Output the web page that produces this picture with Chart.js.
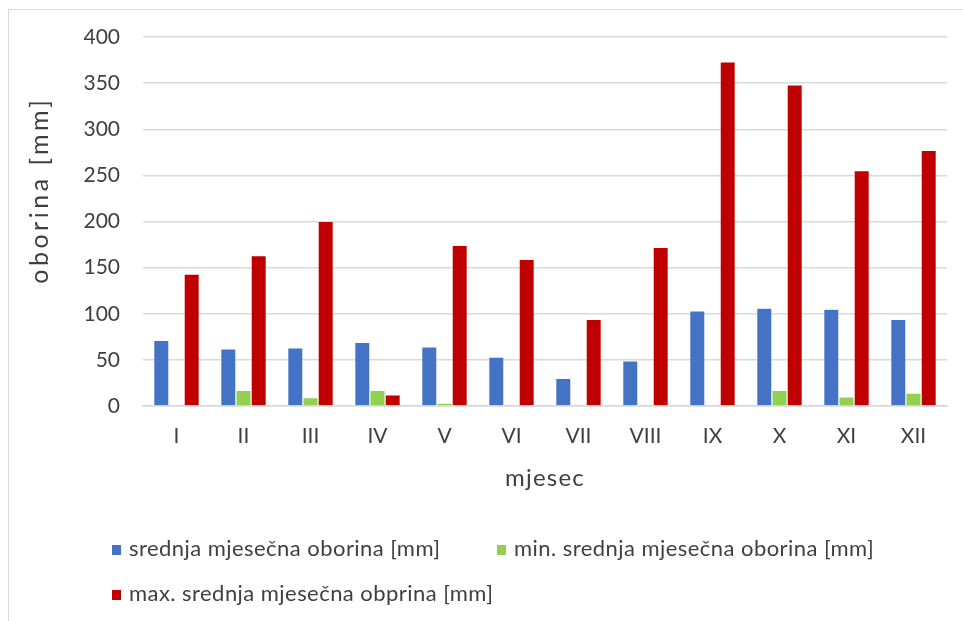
<!DOCTYPE html>
<html>
<head>
<meta charset="utf-8">
<script src="https://cdn.jsdelivr.net/npm/chart.js@4.4.1/dist/chart.umd.min.js"></script>
<style>
  html, body { margin: 0; padding: 0; background: #ffffff; }
  #wrap { position: relative; width: 963px; height: 621px; overflow: hidden; }
  #frame { position: absolute; left: 8px; top: 9px; width: 1000px; height: 700px;
           border-top: 1.5px solid #d9d9d9; border-left: 1.5px solid #d9d9d9; box-sizing: border-box; }
  canvas { position: absolute; left: 0; top: 0; }
  .leg { position: absolute; font-family: Lato, sans-serif; font-size: 22px; letter-spacing: 0.45px; color: #404040;
         white-space: nowrap; line-height: 24px; }
  .leg i { display: inline-block; width: 9px; height: 10px; margin-right: 8px; vertical-align: 1px; }
</style>
</head>
<body>
<div id="wrap">
  <div id="frame"></div>
  <canvas id="c" width="963" height="621"></canvas>
  <div class="leg" id="leg0" style="left:112px; top:536px;"></div>
  <div class="leg" id="leg1" style="left:497px; top:536px;"></div>
  <div class="leg" id="leg2" style="left:112px; top:581px;"></div>
</div>
<script>
const months = ["I","II","III","IV","V","VI","VII","VIII","IX","X","XI","XII"];
const seriesNames = [
  "srednja mjesečna oborina [mm]",
  "min. srednja mjesečna oborina [mm]",
  "max. srednja mjesečna obprina [mm]"
];
const meanPrecip = [71, 62, 63, 69, 64, 53, 30, 49, 103, 106, 105, 94];
const minPrecip  = [0, 17, 9, 17, 3, 0, 0, 0, 0, 17, 10, 14];
const maxPrecip  = [143, 163, 200, 12, 174, 159, 94, 172, 373, 348, 255, 277];
const colors = ["#4472C4", "#92D050", "#C00000"];
const yTitle = "oborina [mm]";
const xTitle = "mjesec";

const font = "Lato, sans-serif";
const textColor = "#404040";

const values = [meanPrecip, minPrecip, maxPrecip];
const datasets = values.map((v, i) => ({
  label: seriesNames[i],
  data: v,
  backgroundColor: colors[i],
  borderColor: "rgba(255,255,255,0.35)",
  borderWidth: 0.6,
  categoryPercentage: 0.68,
  barPercentage: 1.0
}));

// Axis titles drawn with letter spacing to match the reference's text widths
const titlePlugin = {
  id: "axisTitles",
  afterDraw(chart) {
    const ctx = chart.ctx;
    const area = chart.chartArea;
    ctx.save();
    ctx.fillStyle = textColor;
    ctx.textAlign = "center";
    ctx.textBaseline = "middle";
    // y title
    ctx.save();
    ctx.font = "25px " + font;
    ctx.letterSpacing = "3.5px";
    ctx.translate(40, area.top + (area.bottom - area.top) * 0.415);
    ctx.rotate(-Math.PI / 2);
    ctx.fillText(yTitle, 0, 0);
    ctx.restore();
    // x title
    ctx.save();
    ctx.font = "24px " + font;
    ctx.letterSpacing = "1.2px";
    ctx.fillText(xTitle, (area.left + area.right) / 2, area.bottom + 72);
    ctx.restore();
    ctx.restore();
  }
};

new Chart(document.getElementById("c"), {
  type: "bar",
  data: { labels: months, datasets },
  options: {
    responsive: false,
    animation: false,
    devicePixelRatio: 1,
    layout: { padding: { left: 24, top: 37, right: 16, bottom: 127 } },
    plugins: { legend: { display: false }, tooltip: { enabled: false } },
    scales: {
      x: {
        grid: { display: false, drawTicks: false },
        border: { display: true, color: "#d9d9d9", width: 1.5 },
        ticks: { color: textColor, font: { family: font, size: 21 }, padding: 18, maxRotation: 0 },
        title: { display: false, text: xTitle },
        afterFit: s => { s.height = 88; }
      },
      y: {
        min: 0, max: 400,
        ticks: { stepSize: 50, color: textColor, font: { family: font, size: 21 }, padding: 23 },
        grid: { color: "#d9d9d9", lineWidth: 1.5, drawTicks: false },
        border: { display: false },
        title: { display: false, text: yTitle },
        afterFit: s => { s.width = 119; }
      }
    }
  },
  plugins: [titlePlugin]
});

seriesNames.forEach((n, i) => {
  const el = document.getElementById("leg" + i);
  const sw = document.createElement("i");
  sw.style.background = colors[i];
  el.appendChild(sw);
  el.appendChild(document.createTextNode(n));
});
</script>
</body>
</html>
